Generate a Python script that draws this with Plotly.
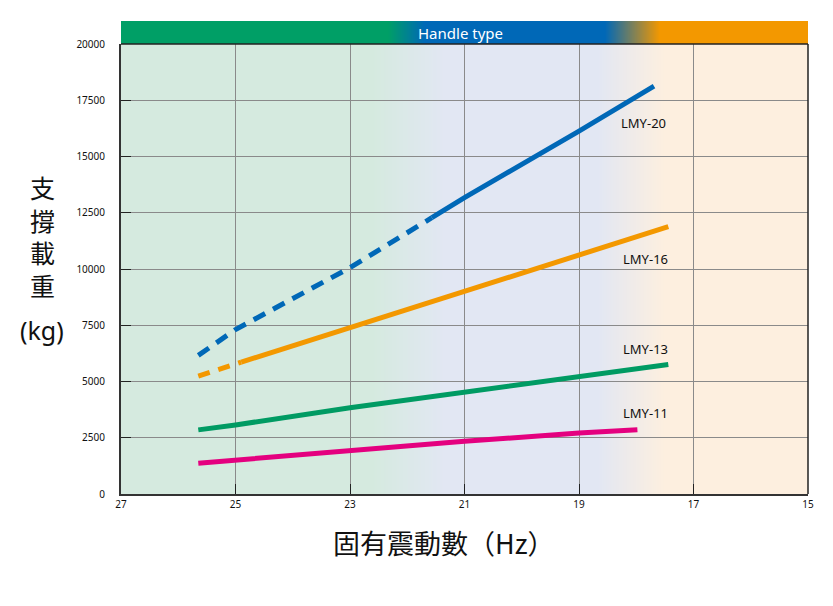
import plotly.graph_objects as go

# ---------------- data ----------------
lmy20_dash_x = [25.65, 25.0, 23.0, 21.57]
lmy20_dash_y = [6160, 7310, 10060, 12280]
lmy20_solid_x = [21.57, 21.0, 19.0, 17.69]
lmy20_solid_y = [12280, 13170, 16130, 18130]

lmy16_dash_x = [25.65, 24.9]
lmy16_dash_y = [5240, 5860]
lmy16_solid_x = [24.9, 23.0, 21.0, 19.0, 17.44]
lmy16_solid_y = [5860, 7390, 9020, 10620, 11880]

lmy13_x = [25.65, 25.0, 23.0, 21.0, 19.0, 17.44]
lmy13_y = [2850, 3070, 3830, 4525, 5190, 5755]

lmy11_x = [25.65, 25.0, 23.0, 21.0, 19.0, 17.98]
lmy11_y = [1370, 1510, 1900, 2340, 2710, 2860]

series_labels = ["LMY-20", "LMY-16", "LMY-13", "LMY-11"]
label_x = [17.88, 17.83, 17.83, 17.83]
label_y = [16500, 10450, 6450, 3600]

x_ticks = [27, 25, 23, 21, 19, 17, 15]
y_ticks = [0, 2500, 5000, 7500, 10000, 12500, 15000, 17500, 20000]

BLUE = "#0068b7"
ORANGE = "#f39800"
GREEN = "#009b63"
PINK = "#e4007f"

# ---------------- layout geometry (page pixels) ----------------
W, H = 833, 606
OFF = 8  # page body margin
L, R, T, B = 121, 808, 44, 494


def px2paper_x(px):
    return (px - L) / (R - L)


def px2paper_y(py):
    return (B - py) / (B - T)


def hex2rgb(h):
    h = h.lstrip("#")
    return tuple(int(h[i:i + 2], 16) for i in (0, 2, 4))


def mix(c0, c1, t):
    a, b = hex2rgb(c0), hex2rgb(c1)
    return "rgb(%d,%d,%d)" % tuple(round(a[i] + (b[i] - a[i]) * t) for i in range(3))


shapes = []


def band(segments, y0, y1, layer):
    for px0, px1, c0, c1 in segments:
        if c0 == c1:
            shapes.append(dict(type="rect", xref="paper", yref="paper",
                               x0=px2paper_x(px0), x1=px2paper_x(px1),
                               y0=y0, y1=y1, fillcolor=c0, line_width=0, layer=layer))
        else:
            n = int(px1 - px0)
            for i in range(n):
                t = (i + 0.5) / n
                shapes.append(dict(type="rect", xref="paper", yref="paper",
                                   x0=px2paper_x(px0 + i), x1=px2paper_x(px0 + i + 1.3),
                                   y0=y0, y1=y1, fillcolor=mix(c0, c1, t),
                                   line_width=0, layer=layer))


BG_G, BG_L, BG_P = "#d5eadf", "#e2e7f3", "#fdefdf"
band([(L, 372, BG_G, BG_G), (372, 445, BG_G, BG_L), (445, 598, BG_L, BG_L),
      (598, 665, BG_L, BG_P), (665, R, BG_P, BG_P)], 0, 1, "below")

BD_G, BD_B, BD_O = "#009f66", BLUE, ORANGE
band([(L, 388, BD_G, BD_G), (388, 425, BD_G, BD_B), (425, 605, BD_B, BD_B),
      (605, 660, BD_B, BD_O), (660, R, BD_O, BD_O)], 1, px2paper_y(21), "above")

shapes.append(dict(type="line", xref="paper", yref="paper", x0=0, x1=1, y0=1, y1=1,
                   line=dict(color="#222", width=1.5), layer="above"))
shapes.append(dict(type="line", xref="paper", yref="paper", x0=1, x1=1, y0=0, y1=1,
                   line=dict(color="#222", width=1.5), layer="above"))

fig = go.Figure()

fig.add_trace(go.Scatter(x=lmy20_dash_x, y=lmy20_dash_y, mode="lines",
                         line=dict(color=BLUE, width=5, dash="13px,9px"), showlegend=False))
fig.add_trace(go.Scatter(x=lmy20_solid_x, y=lmy20_solid_y, mode="lines",
                         line=dict(color=BLUE, width=5), showlegend=False))
fig.add_trace(go.Scatter(x=lmy16_dash_x, y=lmy16_dash_y, mode="lines",
                         line=dict(color=ORANGE, width=5, dash="12px,9px"), showlegend=False))
fig.add_trace(go.Scatter(x=lmy16_solid_x, y=lmy16_solid_y, mode="lines",
                         line=dict(color=ORANGE, width=5), showlegend=False))
fig.add_trace(go.Scatter(x=lmy13_x, y=lmy13_y, mode="lines",
                         line=dict(color=GREEN, width=5), showlegend=False))
fig.add_trace(go.Scatter(x=lmy11_x, y=lmy11_y, mode="lines",
                         line=dict(color=PINK, width=5), showlegend=False))

annotations = []
for name, lx, ly in zip(series_labels, label_x, label_y):
    annotations.append(dict(x=lx, y=ly, xref="x", yref="y", text=name, showarrow=False,
                            xanchor="center", yanchor="middle",
                            font=dict(family="Noto Sans", size=13, color="#111")))

annotations.append(dict(x=px2paper_x(460), y=px2paper_y(33), xref="paper", yref="paper",
                        text="Handle type", showarrow=False, xanchor="center", yanchor="middle",
                        font=dict(family="Noto Sans", size=15, color="white")))

annotations.append(dict(x=px2paper_x(42), y=px2paper_y(236), xref="paper", yref="paper",
                        text="支<br>撐<br>載<br>重", showarrow=False,
                        xanchor="center", yanchor="middle",
                        font=dict(family="Noto Sans CJK TC", size=25, color="#111")))
annotations.append(dict(x=px2paper_x(42), y=px2paper_y(330), xref="paper", yref="paper",
                        text="(kg)", showarrow=False, xanchor="center", yanchor="middle",
                        font=dict(family="Noto Sans", size=25, color="#111")))
annotations.append(dict(x=px2paper_x(443), y=px2paper_y(542), xref="paper", yref="paper",
                        text="固有震動數（Hz）", showarrow=False, xanchor="center", yanchor="middle",
                        font=dict(family="Noto Sans CJK TC", size=27, color="#111")))

fig.update_layout(
    width=W, height=H,
    margin=dict(l=L - OFF, r=W - (R - OFF), t=T - OFF, b=H - (B - OFF), pad=0),
    paper_bgcolor="white", plot_bgcolor="rgba(0,0,0,0)",
    shapes=shapes, annotations=annotations,
    font=dict(family="Noto Sans", size=10, color="#111"),
)
fig.update_xaxes(range=[27, 15], tickvals=x_ticks, ticktext=[str(v) for v in x_ticks],
                 showgrid=True, gridcolor="#8a8a8a", gridwidth=1,
                 showline=True, linecolor="#333", linewidth=2,
                 ticks="inside", ticklen=10, tickcolor="#222", tickwidth=1,
                 zeroline=False, tickfont=dict(size=10))
fig.update_yaxes(range=[0, 20000], tickvals=y_ticks, ticktext=[str(v) for v in y_ticks],
                 showgrid=True, gridcolor="#8a8a8a", gridwidth=1,
                 showline=True, linecolor="#333", linewidth=2,
                 ticks="inside", ticklen=10, tickcolor="#222", tickwidth=1,
                 zeroline=False, tickfont=dict(size=10), ticklabelstandoff=12)

fig.write_html("out.html")
